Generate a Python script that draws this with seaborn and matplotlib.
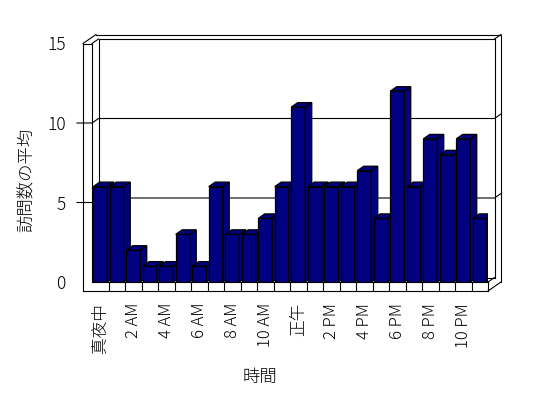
import matplotlib
matplotlib.use("Agg")
import matplotlib.pyplot as plt
from matplotlib.patches import Polygon
import seaborn as sns
import pandas as pd

categories = ['真夜中', '1 AM', '2 AM', '3 AM', '4 AM', '5 AM', '6 AM', '7 AM',
              '8 AM', '9 AM', '10 AM', '11 AM', '正午', '1 PM', '2 PM', '3 PM',
              '4 PM', '5 PM', '6 PM', '7 PM', '8 PM', '9 PM', '10 PM', '11 PM']
values = [6, 6, 2, 1, 1, 3, 1, 6, 3, 3, 4, 6, 11, 6, 6, 6, 7, 4, 12, 6, 9, 8, 9, 4]
yticks = [0, 5, 10, 15]
xlabel = '時間'
ylabel = '訪問数の平均'

sns.set_theme(style='white')
plt.rcParams['font.family'] = ['Noto Sans CJK JP', 'DejaVu Sans']
plt.rcParams['font.weight'] = 'light'

W, H = 548, 398
fig = plt.figure(figsize=(W / 100, H / 100), dpi=100)
fig.patch.set_facecolor('white')
# front plane: x 92..488 px, y 282 (0) .. 43.5 (15) px
ax = fig.add_axes([92 / W, (H - 282) / H, 396 / W, 238.5 / H])
ax.set_facecolor('none')

df = pd.DataFrame({xlabel: categories, ylabel: values})
sns.barplot(data=df, x=xlabel, y=ylabel, order=categories, color='#000080',
            saturation=1, width=0.85, edgecolor='black', linewidth=0.9, ax=ax)

ax.set_xlim(-0.5, 23.5)
ax.set_ylim(0, 15)

PX_CAT = 396 / 24
PX_VAL = 238.5 / 15
def dx(px):
    return px / PX_CAT
def dy(px):
    return px / PX_VAL

OX, OY = dx(6.5), dy(4.5)
WL, WF = dx(9), dy(9)
xl, xr = -0.5, 23.5
top = 15

def line(xs, ys, z=1.0):
    ax.plot(xs, ys, color='black', lw=0.8, clip_on=False, zorder=z,
            solid_capstyle='projecting')

# back wall (inner)
line([xl + OX, xl + OX, xr + OX, xr + OX], [OY, top + OY, top + OY, OY])
line([xl + OX, xr + OX], [OY, OY])
# gridlines
for v in [5, 10]:
    line([xl - WL - dx(6), xl, xl + OX, xr + OX, xr + 2 * OX],
         [v, v, v + OY, v + OY, v + 2 * OY])
# left wall front face
line([xl - WL, xl - WL], [-WF, top], z=50)
line([xl, xl], [0, top], z=50)
line([xl - WL, xl], [top, top], z=50)
line([xl - WL, xl - WL + 2 * OX], [top, top + 2 * OY], z=50)
line([xl, xl + OX], [top, top + OY], z=50)
# outer back top & right
line([xl - WL + 2 * OX, xr + 2 * OX, xr + 2 * OX],
     [top + 2 * OY, top + 2 * OY, -WF + 2 * OY], z=50)
line([xr + OX, xr + 2 * OX], [top + OY, top + 2 * OY], z=50)
line([xr, xr + OX], [0, OY], z=50)
line([xr, xr + 2 * OX], [-WF, -WF + 2 * OY], z=50)
# floor front face
line([xl - WL, xr], [-WF, -WF], z=50)
line([xl, xr], [0, 0], z=50)
for k in range(1, 25):
    line([xl + k, xl + k], [-WF, 0], z=50)

# 3D faces of bars
for i, p in enumerate(ax.patches):
    x, w, h = p.get_x(), p.get_width(), p.get_height()
    p.set_zorder(3 + i)
    topf = Polygon([(x, h), (x + w, h), (x + w + OX, h + OY), (x + OX, h + OY)],
                   closed=True, facecolor='#000080', edgecolor='black',
                   linewidth=0.9, zorder=3 + i + 0.1)
    side = Polygon([(x + w, 0), (x + w + OX, OY), (x + w + OX, h + OY), (x + w, h)],
                   closed=True, facecolor='#000080', edgecolor='black',
                   linewidth=0.9, zorder=3 + i + 0.1)
    ax.add_patch(topf)
    ax.add_patch(side)

for s in ax.spines.values():
    s.set_visible(False)

ax.set_xticks(range(0, 24, 2))
ax.set_xticklabels(categories[::2], rotation=90, fontsize=12, fontweight='light')
ax.set_yticks(yticks)
ax.set_yticklabels([str(t) for t in yticks], fontsize=12.5, fontweight='light')
ax.tick_params(axis='x', length=0, pad=15, colors='black')
ax.tick_params(axis='y', length=0, pad=19, colors='black')

ax.set_xlabel(xlabel, fontsize=12.5, color='black', va='center', fontweight='light')
ax.xaxis.set_label_coords((260 - 92) / 396, (282 - 377) / 238.5)
ax.set_ylabel(ylabel, fontsize=12.5, color='black', va='center', fontweight='light')
ax.yaxis.set_label_coords((27 - 92) / 396, (282 - 180) / 238.5)

fig.savefig('out.png', dpi=100)
